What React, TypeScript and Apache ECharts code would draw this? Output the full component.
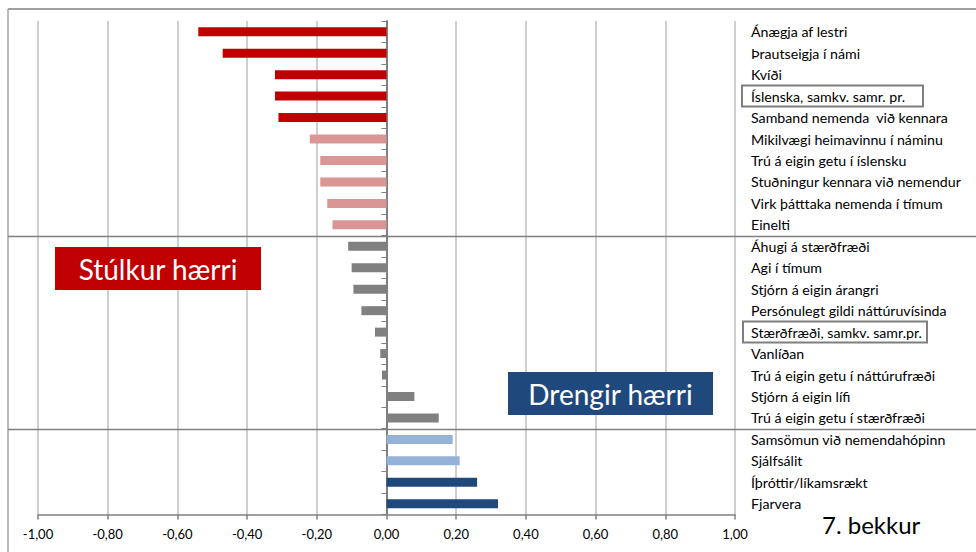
import React, { useEffect, useRef } from "react";
import * as echarts from "echarts";

const categories: string[] = [
  "Ánægja af lestri",
  "Þrautseigja í námi",
  "Kvíði",
  "Íslenska, samkv. samr. pr.",
  "Samband nemenda  við kennara",
  "Mikilvægi heimavinnu í náminu",
  "Trú á eigin getu í íslensku",
  "Stuðningur kennara við nemendur",
  "Virk þátttaka nemenda í tímum",
  "Einelti",
  "Áhugi á stærðfræði",
  "Agi í tímum",
  "Stjórn á eigin árangri",
  "Persónulegt gildi náttúruvísinda",
  "Stærðfræði, samkv. samr.pr.",
  "Vanlíðan",
  "Trú á eigin getu í náttúrufræði",
  "Stjórn á eigin lífi",
  "Trú á eigin getu í stærðfræði",
  "Samsömun við nemendahópinn",
  "Sjálfsálit",
  "Íþróttir/líkamsrækt",
  "Fjarvera",
];

const values: number[] = [
  -0.54, -0.47, -0.32, -0.32, -0.31, -0.22, -0.19, -0.19, -0.17, -0.155,
  -0.11, -0.1, -0.095, -0.072, -0.033, -0.018, -0.013, 0.08, 0.15,
  0.19, 0.21, 0.26, 0.32,
];

const groups: string[] = [
  "girlsStrong", "girlsStrong", "girlsStrong", "girlsStrong", "girlsStrong",
  "girlsWeak", "girlsWeak", "girlsWeak", "girlsWeak", "girlsWeak",
  "neutral", "neutral", "neutral", "neutral", "neutral", "neutral", "neutral", "neutral", "neutral",
  "boysWeak", "boysWeak",
  "boysStrong", "boysStrong",
];

const boxedCategories: string[] = ["Íslenska, samkv. samr. pr.", "Stærðfræði, samkv. samr.pr."];
const separatorsAfter: number[] = [9, 18];

const xMin = -1;
const xMax = 1;
const xInterval = 0.2;

const groupColors: Record<string, string> = {
  girlsStrong: "#C00000",
  girlsWeak: "#D99694",
  neutral: "#808080",
  boysWeak: "#95B3D7",
  boysStrong: "#1F497D",
};

const FONT = 'Lato, "Open Sans", sans-serif';

export default function App() {
  const ref = useRef<HTMLDivElement>(null);
  useEffect(() => {
    if (!ref.current) return;
    const chart = echarts.init(ref.current, undefined, { renderer: "svg" });
    const option: any = {
      animation: false,
      backgroundColor: "#ffffff",
      grid: { left: 38, right: 241, top: 21, bottom: 37.5, containLabel: false },
      xAxis: {
        type: "value",
        min: xMin,
        max: xMax,
        interval: xInterval,
        axisLine: { show: true, onZero: false, lineStyle: { color: "#808080", width: 1.5 } },
        axisTick: { show: true, length: 5, lineStyle: { color: "#808080", width: 1.5 } },
        splitLine: { show: true, lineStyle: { color: "#BFBFBF", width: 1.5 } },
        axisLabel: {
          margin: 13,
          color: "#000",
          fontSize: 13,
          fontFamily: FONT,
          formatter: (v: number) => v.toFixed(2).replace(".", ","),
        },
      },
      yAxis: [
        {
          type: "category",
          data: categories,
          inverse: true,
          position: "left",
          axisLine: { show: true, onZero: true, lineStyle: { color: "#808080", width: 2 } },
          axisTick: { show: true, length: 5, lineStyle: { color: "#808080", width: 1 } },
          axisLabel: { show: false },
          splitLine: { show: false },
        },
        {
          type: "category",
          data: categories,
          inverse: true,
          position: "right",
          axisLine: { show: false, onZero: false },
          axisTick: { show: false },
          splitLine: { show: false },
          axisLabel: {
            show: true,
            margin: 16,
            align: "left",
            color: "#000",
            fontSize: 14.2,
            fontFamily: FONT,
          },
        },
      ],
      series: [
        {
          type: "bar",
          yAxisIndex: 0,
          barWidth: 9,
          data: values.map((v, i) => ({
            value: v,
            itemStyle: { color: groupColors[groups[i]] },
          })),
        },
      ],
    };
    chart.setOption(option);

    const c0 = chart.convertToPixel({ yAxisIndex: 0 } as any, 0 as any) as unknown as number;
    const c1 = chart.convertToPixel({ yAxisIndex: 0 } as any, 1 as any) as unknown as number;
    const band = c1 - c0;
    const catY = (i: number) => chart.convertToPixel({ yAxisIndex: 0 } as any, i as any) as unknown as number;

    const graphic: any[] = [];
    graphic.push({ type: "line", shape: { x1: 8, y1: 9, x2: 976, y2: 9 }, style: { stroke: "#808080", lineWidth: 1.5 }, silent: true });
    graphic.push({ type: "line", shape: { x1: 8, y1: 9, x2: 8, y2: 552 }, style: { stroke: "#A6A6A6", lineWidth: 1.5 }, silent: true });
    separatorsAfter.forEach((idx) => {
      const y = Math.round(catY(idx) + band / 2) + 0.5;
      graphic.push({ type: "line", shape: { x1: 8, y1: y, x2: 976, y2: y }, style: { stroke: "#808080", lineWidth: 1.5 }, silent: true });
    });
    const boxX = [742, 743];
    const boxW = [181, 184];
    boxedCategories.forEach((name, k) => {
      const idx = categories.indexOf(name);
      const y = catY(idx);
      graphic.push({
        type: "rect",
        shape: { x: boxX[k], y: y - 10.5, width: boxW[k], height: 21 },
        style: { fill: "none", stroke: "#7F7F7F", lineWidth: 2 },
        silent: true,
      });
    });
    graphic.push({ type: "rect", shape: { x: 55, y: 247, width: 206, height: 43 }, style: { fill: "#C00000" }, silent: true });
    graphic.push({
      type: "text", x: 158, y: 269,
      style: { text: "Stúlkur hærri", fill: "#ffffff", fontSize: 28, fontFamily: FONT, align: "center", verticalAlign: "middle" },
      silent: true,
    });
    graphic.push({ type: "rect", shape: { x: 508, y: 372, width: 205, height: 43 }, style: { fill: "#1F497D" }, silent: true });
    graphic.push({
      type: "text", x: 610.5, y: 394,
      style: { text: "Drengir hærri", fill: "#ffffff", fontSize: 28, fontFamily: FONT, align: "center", verticalAlign: "middle" },
      silent: true,
    });
    graphic.push({
      type: "text", x: 822, y: 524,
      style: { text: "7. bekkur", fill: "#000000", fontSize: 24, fontFamily: FONT, align: "left", verticalAlign: "middle" },
      silent: true,
    });
    chart.setOption({ graphic });

    return () => chart.dispose();
  }, []);
  return (
    <div
      ref={ref}
      style={{ position: "fixed", left: 0, top: 0, width: 976, height: 552, background: "#fff" }}
    />
  );
}
